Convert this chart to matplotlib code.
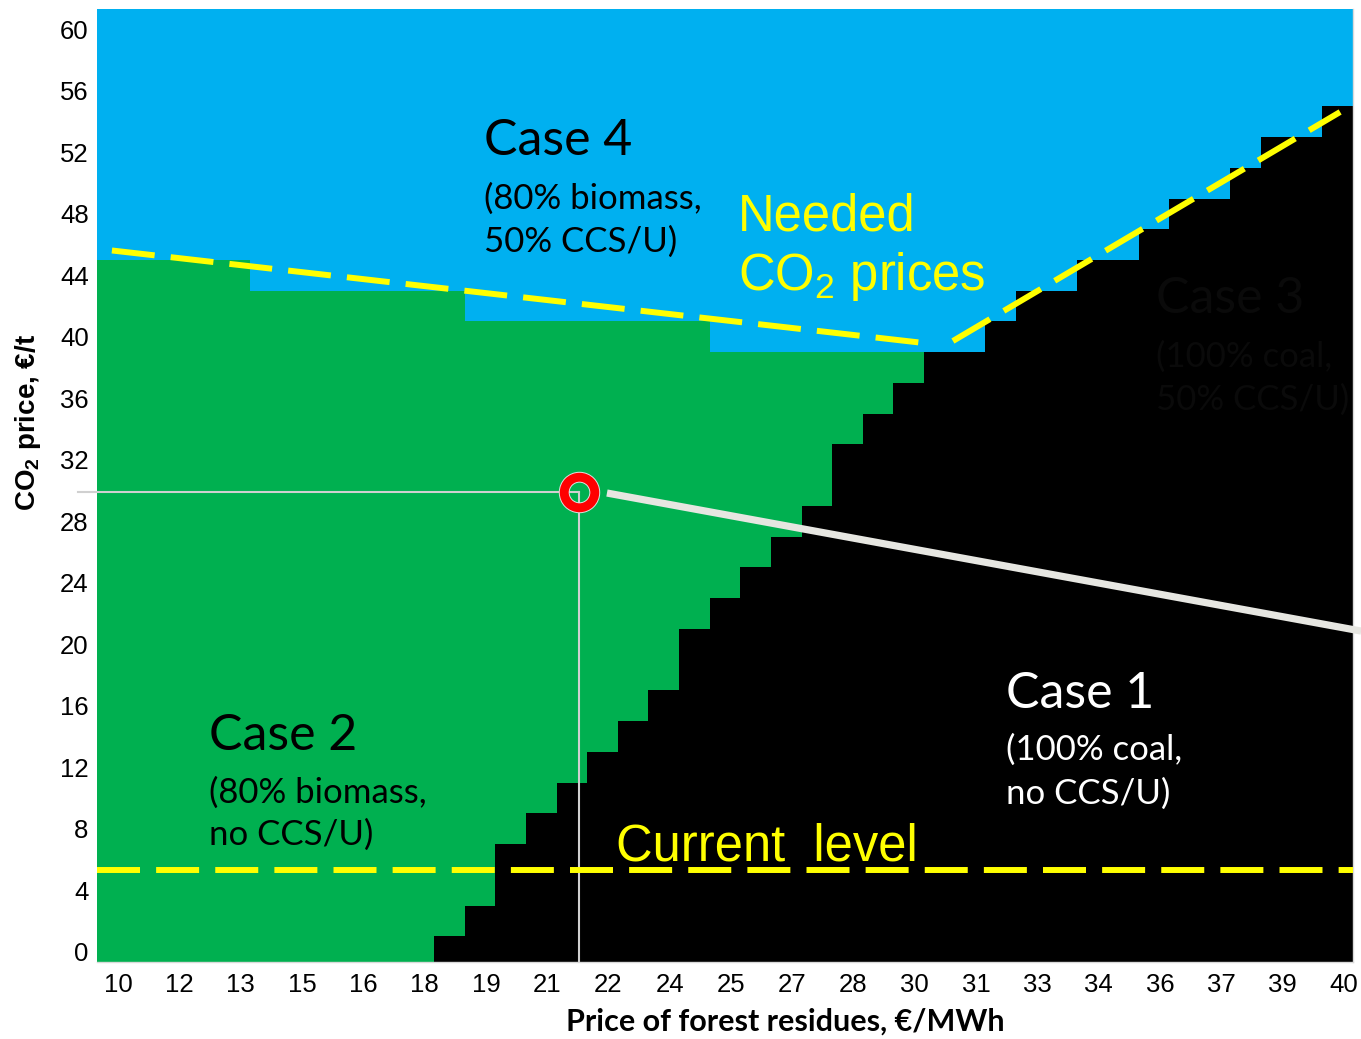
import matplotlib.pyplot as plt
import matplotlib.transforms as mtransforms
import numpy as np
from matplotlib.colors import ListedColormap

plt.rcParams['mathtext.fontset'] = 'custom'
plt.rcParams['mathtext.rm'] = 'Liberation Sans'
plt.rcParams['mathtext.bf'] = 'Liberation Sans:bold'

# price of forest residues (€/MWh), one column per step
wood_price = np.linspace(10, 40, 41)
# CO2 price (€/t), one row per step
co2_price = np.arange(0, 61, 2)
x_tick_labels = ['10', '12', '13', '15', '16', '18', '19', '21', '22', '24', '25',
                 '27', '28', '30', '31', '33', '34', '36', '37', '39', '40']

# number of CO2 steps (from 0) where Case 1 (100% coal, no CCS/U) is cheapest
coal_steps = [0] * 11 + [1, 2, 4, 5, 6, 7, 8, 9, 11, 12, 13, 14, 15, 17, 18, 19,
                         20, 20, 21, 22, 22, 23, 23, 24, 25, 25, 26, 27, 27, 28]
# number of CO2 steps below the CCS/U cases (Case 1 + Case 2)
no_ccs_steps = [23] * 5 + [22] * 7 + [21] * 8 + [20] * 7 + \
               [20, 20, 21, 22, 22, 23, 23, 24, 25, 25, 26, 27, 27, 28]

# needed CO2 price lines and the current level
needed_left_x = [9.99, 29.97]
needed_left_y = [45.62, 39.57]
needed_right_x = [30.58, 40.06]
needed_right_y = [39.73, 54.63]
current_co2 = 5.3

# example operating point
point_wood = 21.43
point_co2 = 29.9

# grid of cases: 0 = case 1 (black), 1 = case 2 (green), 2 = case 3/4 (blue)
rows = np.arange(len(co2_price))[:, None]
grid = np.where(rows < np.array(coal_steps)[None, :], 0,
                np.where(rows < np.array(no_ccs_steps)[None, :], 1, 2))

cmap = ListedColormap(['#000000', '#00B050', '#00B0F0'])

fig = plt.figure(figsize=(13.61, 10.39), dpi=100)
ax = fig.add_axes([97 / 1361, 77 / 1039, 1256 / 1361, 953 / 1039])

ylo, yhi = -0.67, 61.33
dx = (wood_price[1] - wood_price[0]) / 2
x_edges = np.append(wood_price - dx, wood_price[-1] + dx)
y_edges = np.append(co2_price - 1, yhi)
ax.pcolormesh(x_edges, y_edges, grid, cmap=cmap, vmin=-0.5, vmax=2.5, shading='flat')

ax.set_xlim(x_edges[0], x_edges[-1])
ax.set_ylim(ylo, yhi)

# thin guide lines to the operating point
ax.plot([9.16, point_wood], [point_co2, point_co2], color='#d0d0d0', lw=1.5, clip_on=False, zorder=3)
ax.plot([point_wood, point_wood], [ylo, point_co2], color='#d0d0d0', lw=1.5, zorder=3)

# yellow dashed lines
dash = (0, (7.2, 2.7))
ax.plot(needed_left_x, needed_left_y, color='#FFFF00', lw=4.3, linestyle=dash, zorder=4)
ax.plot(needed_right_x, needed_right_y, color='#FFFF00', lw=4.3, linestyle=dash, zorder=4)
ax.plot([x_edges[0], x_edges[-1]], [current_co2, current_co2], color='#FFFF00', lw=4.3,
        linestyle=dash, zorder=4)

# callout line
ax.plot([22.11, 40.575], [29.84, 20.86], color='#e6e6e1', lw=5.2, clip_on=False,
        solid_capstyle='butt', zorder=5)

# ring marker
ax.plot(point_wood, point_co2, 'o', ms=22, mfc='none', mec='#e0e0e0', mew=7.8, zorder=6)
ax.plot(point_wood, point_co2, 'o', ms=22, mfc='none', mec='#FF0000', mew=6.4, zorder=7)

# labels inside the chart
case_font = 'Lato'
ax.text(19.10, 51.83, 'Case 4', fontsize=36, family=case_font, color='black')
ax.text(19.10, 48.35, '(80% biomass,', fontsize=25, family=case_font, color='black')
ax.text(19.10, 45.52, '50% CCS/U)', fontsize=25, family=case_font, color='black')

ax.text(12.37, 13.12, 'Case 2', fontsize=36, family=case_font, color='black')
ax.text(12.37, 9.67, '(80% biomass,', fontsize=25, family=case_font, color='black')
ax.text(12.37, 6.94, 'no CCS/U)', fontsize=25, family=case_font, color='black')

ax.text(31.88, 15.85, 'Case 1', fontsize=36, family=case_font, color='white')
ax.text(31.88, 12.5, '(100% coal,', fontsize=25, family=case_font, color='white')
ax.text(31.88, 9.6, 'no CCS/U)', fontsize=25, family=case_font, color='white')

dark = '#0a0a0a'
ax.text(35.56, 41.55, 'Case 3', fontsize=36, family=case_font, color=dark)
ax.text(35.56, 38.04, '(100% coal,', fontsize=25, family=case_font, color=dark)
ax.text(35.56, 35.24, '50% CCS/U)', fontsize=25, family=case_font, color=dark)

ax.text(25.32, 46.95, 'Needed', fontsize=36.5, family='Liberation Sans', color='#FFFF00')
ax.text(25.32, 43.05, r'CO$_2$ prices', fontsize=36.5, family='Liberation Sans', color='#FFFF00')
ax.text(22.33, 5.96, 'Current  level', fontsize=36.5, family='Liberation Sans', color='#FFFF00',
        zorder=8)

# axes
ax.set_xticks(wood_price[::2])
ax.set_xticklabels(x_tick_labels)
ax.set_yticks(co2_price[::2])
ax.tick_params(length=0, labelsize=18.5, pad=6)
ax.tick_params(axis='x', pad=8)
shift = mtransforms.ScaledTranslation(6 / 100, 0, fig.dpi_scale_trans)
for lab in ax.get_xticklabels():
    lab.set_family('Liberation Sans')
    lab.set_transform(lab.get_transform() + shift)
for lab in ax.get_yticklabels():
    lab.set_family('Liberation Sans')

for side in ['left', 'top']:
    ax.spines[side].set_visible(False)
for side in ['right', 'bottom']:
    ax.spines[side].set_color('#d9d9d9')
    ax.spines[side].set_linewidth(1)

ax.text(0.548, -0.063, 'Price of forest residues, €/MWh', transform=ax.transAxes,
        ha='center', va='center', fontsize=22, fontweight='bold', family='Lato')
fig.text(28 / 1361, 1 - 422 / 1039, r'CO$_\mathbf{2}$ price, €/t', rotation=90,
         ha='center', va='center', fontsize=20, fontweight='bold', family='Liberation Sans')

fig.savefig('out.png', dpi=100)
